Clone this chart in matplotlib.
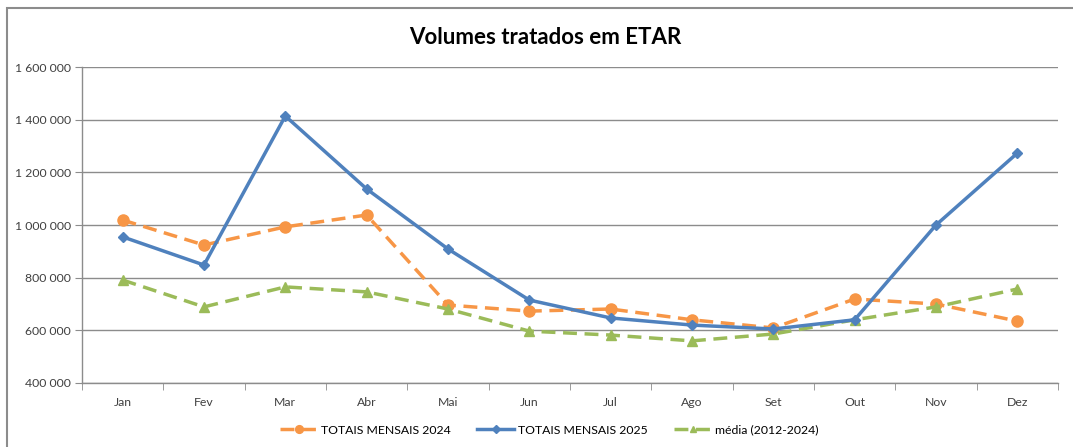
import matplotlib
matplotlib.use("Agg")
import matplotlib.pyplot as plt
from matplotlib.patches import Rectangle
from matplotlib.ticker import FuncFormatter, FixedLocator

plt.rcParams['font.family'] = ['Lato', 'DejaVu Sans']

months = ['Jan', 'Fev', 'Mar', 'Abr', 'Mai', 'Jun', 'Jul', 'Ago', 'Set', 'Out', 'Nov', 'Dez']
totais_2024 = [1019000, 924000, 993000, 1038000, 696000, 673000, 681000, 640000, 609000, 719000, 700000, 635000]
totais_2025 = [955000, 848000, 1414000, 1137000, 909000, 715000, 647000, 620000, 605000, 640000, 1000000, 1273000]
media = [791000, 689000, 765000, 746000, 681000, 597000, 582000, 560000, 586000, 640000, 689000, 757000]

orange = '#F79646'
blue = '#4F81BD'
green = '#9BBB59'
grid_col = '#8C8C8C'

fig = plt.figure(figsize=(10.73, 4.47), dpi=100)
ax = fig.add_axes([0.0764, 0.1432, 0.9096, 0.7068])

x = list(range(len(months)))
ax.plot(x, totais_2024, color=orange, lw=2.5, ls=(0, (4, 2.2)), marker='o', ms=8,
        label='TOTAIS MENSAIS 2024', zorder=3)
ax.plot(x, totais_2025, color=blue, lw=2.5, marker='D', ms=5.5,
        label='TOTAIS MENSAIS 2025', zorder=4)
ax.plot(x, media, color=green, lw=2.5, ls=(0, (4, 2.2)), marker='^', ms=7,
        label='média (2012-2024)', zorder=3)

ax.set_ylim(400000, 1600000)
ax.set_yticks(range(400000, 1600001, 200000))
ax.yaxis.set_major_formatter(FuncFormatter(lambda v, p: f'{int(v):,}'.replace(',', ' ')))
ax.set_xlim(-0.5, 11.5)
ax.set_xticks(x)
ax.set_xticklabels(months)
ax.xaxis.set_minor_locator(FixedLocator([i + 0.5 for i in range(-1, 12)]))
ax.tick_params(axis='x', which='major', length=0, pad=10, labelsize=8.8, colors='#404040')
ax.tick_params(axis='x', which='minor', length=5, color=grid_col, direction='out')
ax.tick_params(axis='y', length=5, color=grid_col, labelsize=8.8, labelcolor='#404040', pad=3)

ax.grid(axis='y', color=grid_col, lw=1)
ax.set_axisbelow(True)
for s in ['top', 'right']:
    ax.spines[s].set_visible(False)
for s in ['left', 'bottom']:
    ax.spines[s].set_color(grid_col)
    ax.spines[s].set_linewidth(1)

fig.text(0.508, 0.917, 'Volumes tratados em ETAR', ha='center', va='center',
         fontsize=16, fontweight='bold', color='black')

fig.legend(loc='center', bbox_to_anchor=(0.512, 0.038), ncol=3, frameon=False,
           fontsize=8.8, handlelength=3.0, columnspacing=2.2, handletextpad=0.3,
           markerscale=0.7)

fig.patches.append(Rectangle((7 / 1073, -0.01), 1.0, 1 - 8 / 447 + 0.01,
                             transform=fig.transFigure, fill=False,
                             edgecolor='#8C8C8C', lw=1.5))

fig.savefig('out.png', dpi=100)
